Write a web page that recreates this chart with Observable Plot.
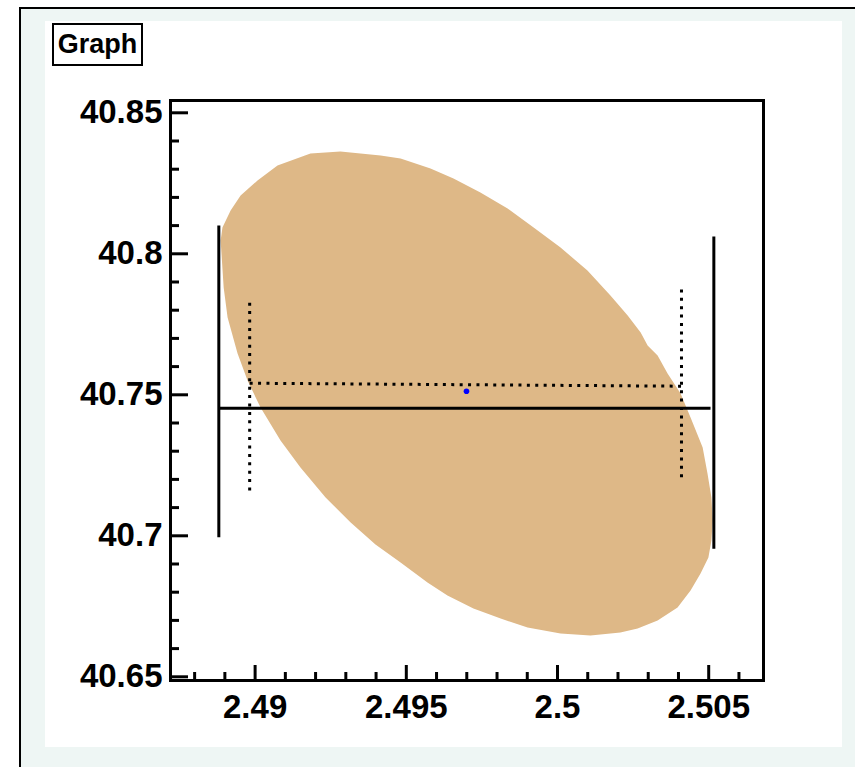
<!DOCTYPE html>
<html><head><meta charset="utf-8">
<script src="https://cdn.jsdelivr.net/npm/d3@7"></script>
<script src="https://cdn.jsdelivr.net/npm/@observablehq/plot@0.6"></script>
<style>
html,body{margin:0;padding:0;background:#fff;}
#page{position:relative;width:855px;height:767px;overflow:hidden;font-family:"Liberation Sans",Arial,Helvetica,sans-serif;}
#canvasbg{position:absolute;left:19px;top:7px;width:836px;height:760px;background:#eef6f4;border-top:2px solid #000;border-left:2px solid #000;box-sizing:border-box;}
#pad{position:absolute;left:45px;top:21px;width:797px;height:726px;background:#fff;}
#title{position:absolute;left:52px;top:23px;width:91px;height:43px;box-sizing:border-box;border:2px solid #000;background:#fff;font-weight:bold;font-size:27px;line-height:39px;text-align:center;}
#chart{position:absolute;left:0;top:0;}
</style></head>
<body><div id="page"><div id="canvasbg"></div><div id="pad"></div><div id="title">Graph</div><div id="chart"></div></div>
<script>
// ---- data ----
const xMajor = [2.49, 2.495, 2.5, 2.505];
const xMinor = [2.488, 2.489, 2.491, 2.492, 2.493, 2.494, 2.496, 2.497, 2.498, 2.499, 2.501, 2.502, 2.503, 2.504, 2.506];
const yMajor = [40.65, 40.7, 40.75, 40.8, 40.85];
const yMinor = [40.66, 40.67, 40.68, 40.69, 40.71, 40.72, 40.73, 40.74, 40.76, 40.77, 40.78, 40.79, 40.81, 40.82, 40.83, 40.84];

// confidence contour
const contourX = [2.48886, 2.48892, 2.48919, 2.48952, 2.49008, 2.49074, 2.49183, 2.49282, 2.49415, 2.49481,
  2.49580, 2.49656, 2.49745, 2.49835, 2.49921, 2.50010, 2.50099, 2.50175, 2.50232, 2.50275,
  2.50298, 2.50331, 2.50364, 2.50407, 2.50440, 2.50480, 2.50496, 2.50509, 2.50513, 2.50509,
  2.50499, 2.50473, 2.50440, 2.50397, 2.50331, 2.50265, 2.50208, 2.50109, 2.50010, 2.49901,
  2.49812, 2.49722, 2.49636, 2.49570, 2.49481, 2.49398, 2.49316, 2.49233, 2.49150, 2.49084,
  2.49018, 2.48975, 2.48942, 2.48909, 2.48896];
const contourY = [40.80472, 40.80933, 40.81536, 40.82067, 40.82599, 40.83131, 40.83557, 40.83628, 40.83486, 40.83379,
  40.83025, 40.82670, 40.82174, 40.81606, 40.80933, 40.80223, 40.79408, 40.78521, 40.77812, 40.77209,
  40.76748, 40.76394, 40.75755, 40.75046, 40.74195, 40.73131, 40.72209, 40.71358, 40.70543, 40.69833,
  40.69231, 40.68663, 40.68060, 40.67457, 40.66997, 40.66713, 40.66571, 40.66465, 40.66536, 40.66748,
  40.67067, 40.67422, 40.67883, 40.68344, 40.69053, 40.69692, 40.70472, 40.71358, 40.72422, 40.73379,
  40.74550, 40.75507, 40.76465, 40.77741, 40.78805];

// error bars (solid and dotted)
const solidSegments = [
  {x1: 2.48880, y1: 40.74525, x2: 2.50506, y2: 40.74525},
  {x1: 2.48880, y1: 40.69950, x2: 2.48880, y2: 40.81004},
  {x1: 2.50517, y1: 40.69539, x2: 2.50517, y2: 40.80613}
];
const dottedSegments = [
  {x1: 2.48982, y1: 40.75411, x2: 2.50410, y2: 40.75305},
  {x1: 2.48982, y1: 40.71606, x2: 2.48982, y2: 40.78284},
  {x1: 2.50410, y1: 40.72078, x2: 2.50410, y2: 40.78734}
];
const bestFit = [{x: 2.49699, y: 40.75128}];

// ---- chart ----
const contour = contourX.map((x, i) => ({x, y: contourY[i]}));
const W = 855, H = 767;
const mL = 170, mR = 92, mT = 100, mB = 87;
const frameW = W - mL - mR, frameH = H - mT - mB;

const chart = Plot.plot({
  width: W, height: H,
  marginLeft: mL, marginRight: mR, marginTop: mT, marginBottom: mB,
  style: {fontFamily: "'Liberation Sans', Arial, Helvetica, sans-serif", fontSize: "33px", fontWeight: "bold", background: "transparent", overflow: "visible"},
  x: {domain: [2.487202, 2.506812]},
  y: {domain: [40.648688, 40.854362]},
  marks: [
    Plot.line(contour, {x: "x", y: "y", curve: "linear-closed", fill: "#deb887", stroke: "none"}),
    Plot.link(solidSegments, {x1: "x1", y1: "y1", x2: "x2", y2: "y2", stroke: "black", strokeWidth: 3, strokeLinecap: "butt"}),
    Plot.link(dottedSegments, {x1: "x1", y1: "y1", x2: "x2", y2: "y2", stroke: "black", strokeWidth: 3, strokeDasharray: "3,5.4", strokeLinecap: "butt"}),
    Plot.dot(bestFit, {x: "x", y: "y", r: 2.8, fill: "#0000ff", stroke: "none"}),
    Plot.tickY(yMajor, {y: d => d, insetRight: frameW - 18, stroke: "black", strokeWidth: 3}),
    Plot.tickY(yMinor, {y: d => d, insetRight: frameW - 9, stroke: "black", strokeWidth: 3}),
    Plot.tickX(xMajor, {x: d => d, insetTop: frameH - 15, stroke: "black", strokeWidth: 3}),
    Plot.tickX(xMinor, {x: d => d, insetTop: frameH - 8, stroke: "black", strokeWidth: 3}),
    Plot.axisY(yMajor, {tickSize: 0, tickPadding: 8, tickFormat: d => String(d), label: null, fontSize: 33, fontWeight: "bold", fill: "black"}),
    Plot.axisX(xMajor, {tickSize: 0, tickPadding: 14, tickFormat: d => String(d), label: null, fontSize: 33, fontWeight: "bold", fill: "black"}),
    Plot.frame({stroke: "black", strokeWidth: 3})
  ]
});
document.getElementById("chart").appendChild(chart);
</script>
</body></html>
